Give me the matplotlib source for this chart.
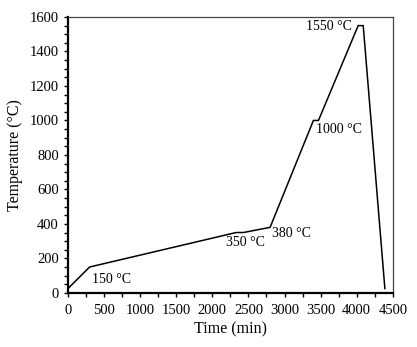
import numpy as np
import matplotlib.pyplot as plt
from matplotlib.ticker import MultipleLocator

plt.rcParams['font.family'] = ['Liberation Serif', 'DejaVu Serif']

# heating schedule: time (min) vs furnace temperature
time_min = [0, 300, 2330, 2430, 2800, 3400, 3470, 4020, 4090, 4390]
temp_c = [25, 150, 350, 350, 380, 1000, 1000, 1550, 1550, 25]

labels = ['150 °C', '350 °C', '380 °C', '1000 °C', '1550 °C']
label_t = [330, 2190, 2830, 3440, 3935]
label_y = [75, 290, 345, 945, 1545]
label_ha = ['left', 'left', 'left', 'left', 'right']

fig = plt.figure(figsize=(4.17, 3.47), dpi=100)
ax = fig.add_axes([0.163, 0.156, 0.779, 0.795])

ax.plot(time_min, temp_c, '-', color='black', lw=1.1)

for s, t, y, ha in zip(labels, label_t, label_y, label_ha):
    ax.text(t, y, s, ha=ha, va='center', fontsize=10)

ax.set_xlim(0, 4500)
ax.set_ylim(0, 1600)
ax.xaxis.set_major_locator(MultipleLocator(500))
ax.xaxis.set_minor_locator(MultipleLocator(250))
ax.yaxis.set_major_locator(MultipleLocator(200))
ax.yaxis.set_minor_locator(MultipleLocator(50))
ax.tick_params(which='both', direction='out', length=3, width=1, labelsize=10.5)
ax.tick_params(which='both', top=False, right=False)
ax.tick_params(axis='x', pad=5)

ax.set_xlabel('Time (min)', fontsize=11.5, labelpad=3)
ax.set_ylabel('Temperature (°C)', fontsize=11.5, labelpad=5)

for side in ('left', 'bottom'):
    ax.spines[side].set_linewidth(1.6)
    ax.spines[side].set_color('black')
for side in ('top', 'right'):
    ax.spines[side].set_linewidth(0.9)
    ax.spines[side].set_color('#444444')

fig.savefig('out.png', dpi=100)
